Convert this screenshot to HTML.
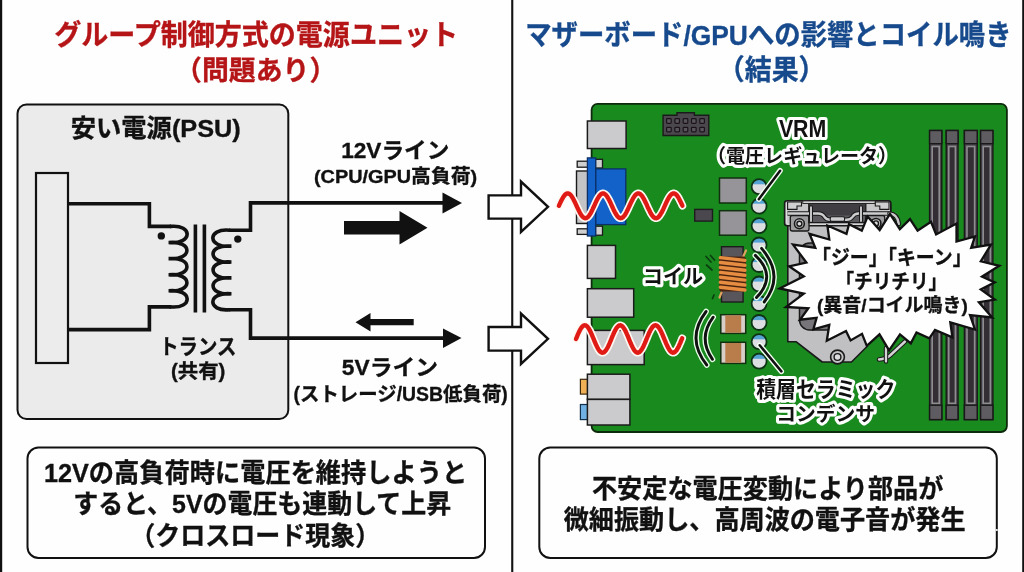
<!DOCTYPE html>
<html lang="ja"><head><meta charset="utf-8"><title>コイル鳴き解説</title>
<style>
html,body{margin:0;padding:0;background:#fefefe;}
body{width:1024px;height:572px;overflow:hidden;}
svg{display:block}
text{font-family:'Liberation Sans','Noto Sans CJK JP',sans-serif;font-weight:700;}
</style></head><body>
<svg width="1024" height="572" viewBox="0 0 1024 572">
<rect width="1024" height="572" fill="#fefefe"/>

<rect x="0" y="0" width="2.2" height="572" fill="#111"/>
<rect x="1022.2" y="0" width="1.8" height="572" fill="#111"/>
<rect x="511.2" y="0" width="2.1" height="572" fill="#111"/>
<rect x="17.5" y="104.5" width="270.8" height="314.5" rx="9" fill="#ebebeb" stroke="#111" stroke-width="2"/>
<rect x="36" y="173" width="32" height="190" fill="#ececec" stroke="#111" stroke-width="2.2"/>
<path d="M68,203.8 H149.4 V226.4 H171" fill="none" stroke="#111" stroke-width="3.6" stroke-linejoin="miter"/>
<path d="M68,329.6 H149.4 V306.9 H171" fill="none" stroke="#111" stroke-width="3.6" stroke-linejoin="miter"/>
<path d="M170.5,226.4 C193.0,224.2 193.0,244.7 168.7,242.5 C193.0,240.3 193.0,260.8 168.7,258.6 C193.0,256.4 193.0,276.9 168.7,274.7 C193.0,272.5 193.0,293.0 168.7,290.8 C193.0,288.6 193.0,309.1 170.5,306.9" fill="none" stroke="#111" stroke-width="3.6" stroke-linejoin="miter" stroke-linecap="round"/>
<path d="M195.4,224.4 V312.6 M204.4,224.4 V312.6" fill="none" stroke="#111" stroke-width="3.6" stroke-linejoin="miter"/>
<path d="M229.5,230.2 C207.0,228.0 207.0,248.3 231.3,246.1 C207.0,243.9 207.0,264.2 231.3,262.0 C207.0,259.8 207.0,280.1 231.3,277.9 C207.0,275.7 207.0,296.0 231.3,293.8 C207.0,291.6 207.0,311.9 229.5,309.7" fill="none" stroke="#111" stroke-width="3.6" stroke-linejoin="miter" stroke-linecap="round"/>
<path d="M229,230.2 H250.5 V202.9 H445" fill="none" stroke="#111" stroke-width="3.6" stroke-linejoin="miter"/>
<path d="M229,309.7 H250.5 V338.1 H445" fill="none" stroke="#111" stroke-width="3.6" stroke-linejoin="miter"/>
<circle cx="161.3" cy="235.9" r="3.7" fill="#111"/>
<circle cx="237.8" cy="239.1" r="3.7" fill="#111"/>
<path d="M442.5,192.4 L462,202.9 L442.5,213.4 Z" fill="#111"/>
<path d="M443,328.4 L461.5,338.1 L443,348 Z" fill="#111"/>
<path d="M344,221 H399.5 V211 L427.5,227.8 L399.5,244.5 V234.5 H344 Z" fill="#111"/>
<path d="M413.7,319 H370.5 V313 L355.5,322.2 L370.5,331.5 V325.2 H413.7 Z" fill="#111"/>
<path d="M488.6,195.4 H521 V181.5 L548,206.8 L521,232 V218.6 H488.6 Z" fill="#fefefe" stroke="#111" stroke-width="2.4" stroke-linejoin="miter"/>
<path d="M488.6,327 H521 V313.5 L548,338.8 L521,364 V350.6 H488.6 Z" fill="#fefefe" stroke="#111" stroke-width="2.4" stroke-linejoin="miter"/>
<rect x="27.5" y="447.5" width="457.5" height="110.5" rx="11" fill="#fefefe" stroke="#111" stroke-width="2"/>
<rect x="539.3" y="447.5" width="457.5" height="110.5" rx="11" fill="#fefefe" stroke="#111" stroke-width="2"/>
<circle cx="996.8" cy="530" r="1.1" fill="#fefefe"/>
<rect x="591.6" y="103.8" width="415.3" height="328.2" rx="6" fill="#198a1e" stroke="#0d2a0d" stroke-width="1.8"/>
<rect x="587.4" y="121" width="38.7" height="27.5" fill="#cbcbcd" stroke="#1b1b1b" stroke-width="1.5"/>
<rect x="576.5" y="171" width="12" height="52.5" fill="#c4c4c6" stroke="#1b1b1b" stroke-width="1.4"/>
<rect x="577.2" y="161.2" width="10.5" height="6" fill="#cfcfcf" stroke="#1b1b1b" stroke-width="1.3"/>
<rect x="577.2" y="228.8" width="10.5" height="5.6" fill="#cfcfcf" stroke="#1b1b1b" stroke-width="1.3"/>
<rect x="595.5" y="159.3" width="7" height="8.7" fill="#cfcfcf" stroke="#1b1b1b" stroke-width="1.3"/>
<rect x="595.5" y="226.2" width="7" height="9" fill="#cfcfcf" stroke="#1b1b1b" stroke-width="1.3"/>
<rect x="595.5" y="168.9" width="30.3" height="55.7" fill="#1262c9" stroke="#0d2f66" stroke-width="1.3"/>
<rect x="587.4" y="157.9" width="8.3" height="78.1" fill="#1262c9" stroke="#0d2f66" stroke-width="1.3"/>
<rect x="587.4" y="245.4" width="28.1" height="33" fill="#cbcbcd" stroke="#1b1b1b" stroke-width="1.5"/>
<rect x="587.4" y="288.7" width="46.3" height="28.5" fill="#cbcbcd" stroke="#1b1b1b" stroke-width="1.5"/>
<rect x="587.4" y="330.4" width="56.8" height="34.2" fill="#cbcbcd" stroke="#1b1b1b" stroke-width="1.5"/>
<rect x="580.4" y="379.3" width="7.5" height="14.8" fill="#f0b055" stroke="#3a2a10" stroke-width="1.2"/>
<rect x="580.4" y="404.5" width="7.5" height="15.1" fill="#70b2e4" stroke="#14304a" stroke-width="1.2"/>
<rect x="587.4" y="374.2" width="42.5" height="25.2" fill="#cbcbcd" stroke="#1b1b1b" stroke-width="1.5"/>
<rect x="587.4" y="399.4" width="42.5" height="25.6" fill="#cbcbcd" stroke="#1b1b1b" stroke-width="1.5"/>
<path d="M663.1,115.3 H677 V112.8 H694.4 V115.3 H708.8 V135.5 H663.1 Z" fill="#4b484d" stroke="#1a1a1a" stroke-width="1.4"/>
<rect x="666.6" y="118.7" width="4.6" height="4.6" rx="0.8" fill="#59565b" stroke="#1c121c" stroke-width="1.2"/>
<rect x="674.9" y="118.7" width="4.6" height="4.6" rx="0.8" fill="#59565b" stroke="#1c121c" stroke-width="1.2"/>
<rect x="683.2" y="118.7" width="4.6" height="4.6" rx="0.8" fill="#59565b" stroke="#1c121c" stroke-width="1.2"/>
<rect x="691.5" y="118.7" width="4.6" height="4.6" rx="0.8" fill="#59565b" stroke="#1c121c" stroke-width="1.2"/>
<rect x="699.8" y="118.7" width="4.6" height="4.6" rx="0.8" fill="#59565b" stroke="#1c121c" stroke-width="1.2"/>
<rect x="666.6" y="127.3" width="4.6" height="4.6" rx="0.8" fill="#59565b" stroke="#1c121c" stroke-width="1.2"/>
<rect x="674.9" y="127.3" width="4.6" height="4.6" rx="0.8" fill="#59565b" stroke="#1c121c" stroke-width="1.2"/>
<rect x="683.2" y="127.3" width="4.6" height="4.6" rx="0.8" fill="#59565b" stroke="#1c121c" stroke-width="1.2"/>
<rect x="691.5" y="127.3" width="4.6" height="4.6" rx="0.8" fill="#59565b" stroke="#1c121c" stroke-width="1.2"/>
<rect x="699.8" y="127.3" width="4.6" height="4.6" rx="0.8" fill="#59565b" stroke="#1c121c" stroke-width="1.2"/>
<rect x="719.5" y="178" width="26.8" height="25" fill="#969498" stroke="#10300f" stroke-width="1.5"/>
<rect x="719.5" y="210.7" width="26.8" height="24.5" fill="#969498" stroke="#10300f" stroke-width="1.5"/>
<rect x="694.7" y="209.4" width="17.8" height="11.7" fill="#4a474e" stroke="#1d1d1d" stroke-width="1.4"/>
<defs><clipPath id="capc"><circle cx="0" cy="0" r="7.5"/></clipPath></defs>
<g transform="translate(759.1,186.7)"><circle r="7.5" fill="#dcdee2"/><rect x="-8" y="-8" width="16" height="5.6" fill="#55a3d3" clip-path="url(#capc)"/><circle r="7.5" fill="none" stroke="#0c3314" stroke-width="1.8"/></g>
<g transform="translate(759.1,206.1)"><circle r="7.5" fill="#dcdee2"/><rect x="-8" y="-8" width="16" height="5.6" fill="#55a3d3" clip-path="url(#capc)"/><circle r="7.5" fill="none" stroke="#0c3314" stroke-width="1.8"/></g>
<g transform="translate(759.1,225.6)"><circle r="7.5" fill="#dcdee2"/><rect x="-8" y="-8" width="16" height="5.6" fill="#55a3d3" clip-path="url(#capc)"/><circle r="7.5" fill="none" stroke="#0c3314" stroke-width="1.8"/></g>
<g transform="translate(759.1,245)"><circle r="7.5" fill="#dcdee2"/><rect x="-8" y="-8" width="16" height="5.6" fill="#55a3d3" clip-path="url(#capc)"/><circle r="7.5" fill="none" stroke="#0c3314" stroke-width="1.8"/></g>
<g transform="translate(759.1,264.5)"><circle r="7.5" fill="#dcdee2"/><rect x="-8" y="-8" width="16" height="5.6" fill="#55a3d3" clip-path="url(#capc)"/><circle r="7.5" fill="none" stroke="#0c3314" stroke-width="1.8"/></g>
<g transform="translate(759.1,284)"><circle r="7.5" fill="#dcdee2"/><rect x="-8" y="-8" width="16" height="5.6" fill="#55a3d3" clip-path="url(#capc)"/><circle r="7.5" fill="none" stroke="#0c3314" stroke-width="1.8"/></g>
<g transform="translate(759.1,303.5)"><circle r="7.5" fill="#dcdee2"/><rect x="-8" y="-8" width="16" height="5.6" fill="#55a3d3" clip-path="url(#capc)"/><circle r="7.5" fill="none" stroke="#0c3314" stroke-width="1.8"/></g>
<g transform="translate(759.1,322.5)"><circle r="7.5" fill="#dcdee2"/><rect x="-8" y="-8" width="16" height="5.6" fill="#55a3d3" clip-path="url(#capc)"/><circle r="7.5" fill="none" stroke="#0c3314" stroke-width="1.8"/></g>
<g transform="translate(759.1,341.7)"><circle r="7.5" fill="#dcdee2"/><rect x="-8" y="-8" width="16" height="5.6" fill="#55a3d3" clip-path="url(#capc)"/><circle r="7.5" fill="none" stroke="#0c3314" stroke-width="1.8"/></g>
<g transform="translate(759.1,361.2)"><circle r="7.5" fill="#dcdee2"/><rect x="-8" y="-8" width="16" height="5.6" fill="#55a3d3" clip-path="url(#capc)"/><circle r="7.5" fill="none" stroke="#0c3314" stroke-width="1.8"/></g>
<rect x="721.5" y="246.7" width="21.6" height="55.3" fill="#58565a" stroke="#1c1c1c" stroke-width="1.4"/>
<path d="M742.5,258 L746,250.5" stroke="#e0a060" stroke-width="2.2" stroke-linecap="round" fill="none"/>
<path d="M719.5,297.5 L721.5,292.5" stroke="#e0a060" stroke-width="2.2" stroke-linecap="round" fill="none"/>
<rect x="719.3" y="256.4" width="26.6" height="35" rx="2.5" fill="#4a2410"/>
<path d="M720.3,257.6 L744.9,260.4" stroke="#e68d42" stroke-width="3.4" stroke-linecap="round" fill="none"/>
<path d="M720.3,262.5 L744.9,265.3" stroke="#e68d42" stroke-width="3.4" stroke-linecap="round" fill="none"/>
<path d="M720.3,267.5 L744.9,270.3" stroke="#e68d42" stroke-width="3.4" stroke-linecap="round" fill="none"/>
<path d="M720.3,272.4 L744.9,275.2" stroke="#e68d42" stroke-width="3.4" stroke-linecap="round" fill="none"/>
<path d="M720.3,277.3 L744.9,280.1" stroke="#e68d42" stroke-width="3.4" stroke-linecap="round" fill="none"/>
<path d="M720.3,282.2 L744.9,285.0" stroke="#e68d42" stroke-width="3.4" stroke-linecap="round" fill="none"/>
<path d="M720.3,287.2 L744.9,290.0" stroke="#e68d42" stroke-width="3.4" stroke-linecap="round" fill="none"/>
<path d="M706,256.5 L711,262 M710.5,255.5 L714.5,260 M706.5,265 L712,270 M714,295 L712.5,298.5" stroke="#0b3f10" stroke-width="1.7" fill="none" stroke-linecap="round"/>
<rect x="720.8" y="314.7" width="24.9" height="18.7" fill="#d8cec8" stroke="#10300f" stroke-width="1.5"/>
<rect x="725.3" y="315.4" width="15.9" height="17.3" fill="#b97d4b"/>
<rect x="720.8" y="342.3" width="24.9" height="21.1" fill="#d8cec8" stroke="#10300f" stroke-width="1.5"/>
<rect x="725.3" y="343.0" width="15.9" height="19.700000000000003" fill="#b97d4b"/>
<path d="M755.3,255.4 Q777.5,276 756.5,297.5" fill="none" stroke="#e8ffe8" stroke-width="5.6" stroke-linecap="round"/>
<path d="M761.6,248.4 Q785,275.8 764.2,302" fill="none" stroke="#e8ffe8" stroke-width="5.6" stroke-linecap="round"/>
<path d="M706.1,311.5 Q685.5,338.3 706.8,365" fill="none" stroke="#e8ffe8" stroke-width="5.6" stroke-linecap="round"/>
<path d="M713.2,317.2 Q697.5,338.3 712.5,359.3" fill="none" stroke="#e8ffe8" stroke-width="5.6" stroke-linecap="round"/>
<path d="M755.3,255.4 Q777.5,276 756.5,297.5" fill="none" stroke="#111" stroke-width="2.9" stroke-linecap="round"/>
<path d="M761.6,248.4 Q785,275.8 764.2,302" fill="none" stroke="#111" stroke-width="2.9" stroke-linecap="round"/>
<path d="M706.1,311.5 Q685.5,338.3 706.8,365" fill="none" stroke="#111" stroke-width="2.9" stroke-linecap="round"/>
<path d="M713.2,317.2 Q697.5,338.3 712.5,359.3" fill="none" stroke="#111" stroke-width="2.9" stroke-linecap="round"/>
<path d="M780.1,170.7 L758.8,199.2" fill="none" stroke="#f2fff2" stroke-width="5.4" stroke-linecap="round"/>
<path d="M780.1,170.7 L758.8,199.2" fill="none" stroke="#111" stroke-width="2.5" stroke-linecap="round"/>
<path d="M759.7,345.3 L781.4,371.4" fill="none" stroke="#f2fff2" stroke-width="5.4" stroke-linecap="round"/>
<path d="M759.7,345.3 L781.4,371.4" fill="none" stroke="#111" stroke-width="2.5" stroke-linecap="round"/>
<rect x="929.6" y="130.5" width="12.2" height="289.1" fill="#4b484e" stroke="#191919" stroke-width="1.4"/>
<rect x="932.2" y="146.5" width="7.0" height="256.8" fill="#322e33" stroke="#8e8c90" stroke-width="1.6"/>
<rect x="929.6" y="130.5" width="12.2" height="13.2" fill="#5e5b61" stroke="#191919" stroke-width="1.4"/>
<rect x="929.6" y="405.2" width="12.2" height="14.4" fill="#5e5b61" stroke="#191919" stroke-width="1.4"/>
<rect x="946.2" y="130.5" width="11.8" height="289.1" fill="#4b484e" stroke="#191919" stroke-width="1.4"/>
<rect x="948.8" y="146.5" width="6.6" height="256.8" fill="#322e33" stroke="#8e8c90" stroke-width="1.6"/>
<rect x="946.2" y="130.5" width="11.8" height="13.2" fill="#5e5b61" stroke="#191919" stroke-width="1.4"/>
<rect x="946.2" y="405.2" width="11.8" height="14.4" fill="#5e5b61" stroke="#191919" stroke-width="1.4"/>
<rect x="964.4" y="130.5" width="12.8" height="289.1" fill="#4b484e" stroke="#191919" stroke-width="1.4"/>
<rect x="967.0" y="146.5" width="7.6" height="256.8" fill="#322e33" stroke="#8e8c90" stroke-width="1.6"/>
<rect x="964.4" y="130.5" width="12.8" height="13.2" fill="#5e5b61" stroke="#191919" stroke-width="1.4"/>
<rect x="964.4" y="405.2" width="12.8" height="14.4" fill="#5e5b61" stroke="#191919" stroke-width="1.4"/>
<rect x="980.6" y="130.5" width="12.3" height="289.1" fill="#4b484e" stroke="#191919" stroke-width="1.4"/>
<rect x="983.2" y="146.5" width="7.1" height="256.8" fill="#322e33" stroke="#8e8c90" stroke-width="1.6"/>
<rect x="980.6" y="130.5" width="12.3" height="13.2" fill="#5e5b61" stroke="#191919" stroke-width="1.4"/>
<rect x="980.6" y="405.2" width="12.3" height="14.4" fill="#5e5b61" stroke="#191919" stroke-width="1.4"/>
<path d="M787.8,203 Q787.8,201.5 790,201.5 H888 Q890.5,201.5 890.5,204 V233 L895,240 V325 L868,338 L866.8,346.8 L851.5,362 H822.2 L796,341.7 H787.8 Z" fill="#c0c0c3" stroke="#1a1a1a" stroke-width="1.6" stroke-linejoin="round"/>
<rect x="799.5" y="243" width="95" height="87" rx="10" fill="#77757a" stroke="#1a1a1a" stroke-width="1.5"/>
<rect x="784.6" y="200.8" width="106.2" height="25" rx="2.5" fill="#c7c7c9" stroke="#1a1a1a" stroke-width="1.6"/>
<rect x="786.6" y="202.6" width="102.2" height="21.5" rx="1.5" fill="none" stroke="#e2e2e4" stroke-width="1"/>
<rect x="790.3" y="215.5" width="18.7" height="15.5" rx="2" fill="#9d9c9f" stroke="#1a1a1a" stroke-width="1.3"/>
<rect x="866" y="215.5" width="18.7" height="15.5" rx="2" fill="#9d9c9f" stroke="#1a1a1a" stroke-width="1.3"/>
<rect x="808.8" y="203.2" width="57" height="19.4" fill="#403e42" stroke="#1a1a1a" stroke-width="1.3"/>
<rect x="809.5" y="215.5" width="55.6" height="6.5" fill="#5c5a5e"/>
<rect x="802.8" y="200.9" width="72.5" height="2.6" fill="#d2d2d4" stroke="#1a1a1a" stroke-width="0.9"/>
<path d="M787.6,209.4 V202 H801.5 V206 H797 V209.4 Z" fill="#d0d0d2" stroke="#1a1a1a" stroke-width="1.1"/>
<path d="M889,209.4 V202 H875.3 V206 H879.8 V209.4 Z" fill="#d0d0d2" stroke="#1a1a1a" stroke-width="1.1"/>
<path d="M787.5,213.5 H818 Q822.5,213.5 824.5,216.8 Q826.3,219.8 830.5,219.8 H846.5 Q850.5,219.8 852.5,216.8 Q854.5,213.5 858.5,213.5 H889.5" stroke="#1a1a1a" stroke-width="4.6" fill="none" stroke-linecap="butt" stroke-linejoin="round"/>
<path d="M787.5,213.5 H818 Q822.5,213.5 824.5,216.8 Q826.3,219.8 830.5,219.8 H846.5 Q850.5,219.8 852.5,216.8 Q854.5,213.5 858.5,213.5 H889.5" stroke="#cdcdcf" stroke-width="2.4" fill="none" stroke-linecap="butt" stroke-linejoin="round"/>
<rect x="830.2" y="216.8" width="14.4" height="4.6" rx="1.6" fill="#cdcdcf" stroke="#1a1a1a" stroke-width="1.1"/>
<path d="M811,207.3 V221 M861,207.3 V221" stroke="#1a1a1a" stroke-width="4" stroke-linecap="round" fill="none"/>
<path d="M811,207.3 V221 M861,207.3 V221" stroke="#cdcdcf" stroke-width="1.9" stroke-linecap="round" fill="none"/>
<path d="M889.5,213.5 Q897.5,214 898.8,224" stroke="#1a1a1a" stroke-width="4.6" fill="none" stroke-linecap="round"/>
<path d="M889.5,213.5 Q897.5,214 898.8,224" stroke="#c9c9cb" stroke-width="2.4" fill="none" stroke-linecap="round"/>
<circle cx="799.4" cy="223.7" r="4.9" fill="#c4c4c7" stroke="#1a1a1a" stroke-width="1.6"/><circle cx="799.4" cy="223.7" r="2.5" fill="#dcdcde" stroke="#1a1a1a" stroke-width="1.4"/>
<circle cx="876" cy="223.4" r="4.9" fill="#c4c4c7" stroke="#1a1a1a" stroke-width="1.6"/><circle cx="876" cy="223.4" r="2.5" fill="#dcdcde" stroke="#1a1a1a" stroke-width="1.4"/>
<circle cx="837.5" cy="357" r="6.9" fill="#c4c4c7" stroke="#1a1a1a" stroke-width="1.6"/><circle cx="837.5" cy="357" r="3.4" fill="#dcdcde" stroke="#1a1a1a" stroke-width="1.4"/>
<path d="M905,341.5 L890,355.5 Q886,359 879,359.5" stroke="#1a1a1a" stroke-width="4.6" fill="none" stroke-linecap="round"/>
<path d="M905,341.5 L890,355.5 Q886,359 879,359.5" stroke="#d4d4d6" stroke-width="2.4" fill="none" stroke-linecap="round"/>
<path d="M886,348 V361.5" stroke="#1a1a1a" stroke-width="4.4" fill="none" stroke-linecap="round"/>
<path d="M886,348 V361.5" stroke="#d4d4d6" stroke-width="2.3" fill="none" stroke-linecap="round"/>
<polygon points="789.1,266.3 806.4,262.5 793,244.6 815.3,247.8 809.5,233.8 829.3,239.5 827.4,225.5 846.5,233.8 849,224.2 861.8,230.6 867.6,216.6 879.7,230 890,214 899.8,229.3 910,219.1 917.6,230.6 931,221.7 936.1,234.4 956.5,223.6 956.5,241.5 975,236.4 971.2,247.8 991,244.6 980.8,261.3 999.3,265.8 982,276.7 994.8,282.4 980.8,289.4 994.8,299.6 978.9,302.2 992.2,317.5 970,315 975,329.5 950.3,322.3 952.4,337.4 935,330 929.3,338.3 916.5,332.5 910.8,343.4 900,334.4 889.1,350.4 879.5,334.4 866.8,345.9 862,333.8 850.6,340.5 846,331 826.8,340.8 829.3,324.8 813.4,329.3 816.6,317.8 800,319.7 808.3,308.3 786,307 803.8,293.6 779.6,288.5 803.8,276.4" fill="#fefefe" stroke="#111" stroke-width="2.3" stroke-linejoin="miter" stroke-miterlimit="6"/>
<path d="M558.9,205.8 L559.4,204.7 L559.9,203.6 L560.4,202.5 L560.9,201.5 L561.4,200.5 L561.9,199.5 L562.4,198.6 L562.9,197.7 L563.4,196.9 L563.9,196.2 L564.4,195.5 L564.9,194.9 L565.4,194.4 L565.9,194.0 L566.4,193.7 L566.9,193.5 L567.4,193.4 L567.9,193.4 L568.4,193.5 L568.9,193.7 L569.4,193.9 L569.9,194.3 L570.4,194.8 L570.9,195.3 L571.4,196.0 L571.9,196.7 L572.4,197.5 L572.9,198.3 L573.4,199.2 L573.9,200.2 L574.4,201.2 L574.9,202.2 L575.4,203.3 L575.9,204.4 L576.4,205.5 L576.9,206.6 L577.4,207.7 L577.9,208.8 L578.4,209.8 L578.9,210.8 L579.4,211.8 L579.9,212.8 L580.4,213.6 L580.9,214.5 L581.4,215.2 L581.9,215.9 L582.4,216.5 L582.9,217.0 L583.4,217.4 L583.9,217.8 L584.4,218.0 L584.9,218.2 L585.4,218.2 L585.9,218.1 L586.4,218.0 L586.9,217.7 L587.4,217.4 L587.9,217.0 L588.4,216.4 L588.9,215.8 L589.4,215.2 L589.9,214.4 L590.4,213.6 L590.9,212.7 L591.4,211.7 L591.9,210.7 L592.4,209.7 L592.9,208.6 L593.4,207.6 L593.9,206.5 L594.4,205.4 L594.9,204.3 L595.4,203.2 L595.9,202.1 L596.4,201.1 L596.9,200.1 L597.4,199.1 L597.9,198.2 L598.4,197.4 L598.9,196.6 L599.4,195.9 L599.9,195.3 L600.4,194.7 L600.9,194.3 L601.4,193.9 L601.9,193.6 L602.4,193.5 L602.9,193.4 L603.4,193.4 L603.9,193.6 L604.4,193.8 L604.9,194.1 L605.4,194.5 L605.9,195.0 L606.4,195.6 L606.9,196.2 L607.4,197.0 L607.9,197.8 L608.4,198.7 L608.9,199.6 L609.4,200.6 L609.9,201.6 L610.4,202.6 L610.9,203.7 L611.4,204.8 L611.9,205.9 L612.4,207.0 L612.9,208.1 L613.4,209.2 L613.9,210.2 L614.4,211.2 L614.9,212.2 L615.4,213.1 L615.9,214.0 L616.4,214.8 L616.9,215.5 L617.4,216.2 L617.9,216.7 L618.4,217.2 L618.9,217.6 L619.4,217.9 L619.9,218.1 L620.4,218.2 L620.9,218.2 L621.4,218.1 L621.9,217.9 L622.4,217.6 L622.9,217.2 L623.4,216.8 L623.9,216.2 L624.4,215.6 L624.9,214.9 L625.4,214.1 L625.9,213.2 L626.4,212.3 L626.9,211.3 L627.4,210.3 L627.9,209.3 L628.4,208.2 L628.9,207.1 L629.4,206.0 L629.9,204.9 L630.4,203.8 L630.9,202.7 L631.4,201.7 L631.9,200.7 L632.4,199.7 L632.9,198.7 L633.4,197.9 L633.9,197.1 L634.4,196.3 L634.9,195.6 L635.4,195.0 L635.9,194.5 L636.4,194.1 L636.9,193.8 L637.4,193.6 L637.9,193.4 L638.4,193.4 L638.9,193.5 L639.4,193.6 L639.9,193.9 L640.4,194.2 L640.9,194.7 L641.4,195.2 L641.9,195.8 L642.4,196.5 L642.9,197.3 L643.4,198.1 L643.9,199.0 L644.4,200.0 L644.9,201.0 L645.4,202.0 L645.9,203.1 L646.4,204.1 L646.9,205.2 L647.4,206.4 L647.9,207.5 L648.4,208.5 L648.9,209.6 L649.4,210.6 L649.9,211.6 L650.4,212.6 L650.9,213.5 L651.4,214.3 L651.9,215.1 L652.4,215.8 L652.9,216.4 L653.4,216.9 L653.9,217.4 L654.4,217.7 L654.9,218.0 L655.4,218.1 L655.9,218.2 L656.4,218.2 L656.9,218.0 L657.4,217.8 L657.9,217.5 L658.4,217.1 L658.9,216.6 L659.4,216.0 L659.9,215.3 L660.4,214.5 L660.9,213.7 L661.4,212.9 L661.9,211.9 L662.4,210.9 L662.9,209.9 L663.4,208.9 L663.9,207.8 L664.4,206.7 L664.9,205.6 L665.4,204.5 L665.9,203.4 L666.4,202.3 L666.9,201.3 L667.4,200.3 L667.9,199.3 L668.4,198.4 L668.9,197.5 L669.4,196.7 L669.9,196.0 L670.4,195.4 L670.9,194.8 L671.4,194.4 L671.9,194.0 L672.4,193.7 L672.9,193.5 L673.4,193.4 L673.9,193.4 L674.4,193.5 L674.9,193.7 L675.4,194.0 L675.9,194.4 L676.4,194.9 L676.9,195.4 L677.4,196.1 L677.9,196.8 L678.4,197.6 L678.9,198.5 L679.4,199.4 L679.9,200.4 L680.4,201.4 L680.9,202.4 L681.4,203.5 L681.9,204.6 L682.4,205.7" fill="none" stroke="#fff8f2" stroke-width="7.8" stroke-linecap="round" stroke-linejoin="round"/>
<path d="M558.9,205.8 L559.4,204.7 L559.9,203.6 L560.4,202.5 L560.9,201.5 L561.4,200.5 L561.9,199.5 L562.4,198.6 L562.9,197.7 L563.4,196.9 L563.9,196.2 L564.4,195.5 L564.9,194.9 L565.4,194.4 L565.9,194.0 L566.4,193.7 L566.9,193.5 L567.4,193.4 L567.9,193.4 L568.4,193.5 L568.9,193.7 L569.4,193.9 L569.9,194.3 L570.4,194.8 L570.9,195.3 L571.4,196.0 L571.9,196.7 L572.4,197.5 L572.9,198.3 L573.4,199.2 L573.9,200.2 L574.4,201.2 L574.9,202.2 L575.4,203.3 L575.9,204.4 L576.4,205.5 L576.9,206.6 L577.4,207.7 L577.9,208.8 L578.4,209.8 L578.9,210.8 L579.4,211.8 L579.9,212.8 L580.4,213.6 L580.9,214.5 L581.4,215.2 L581.9,215.9 L582.4,216.5 L582.9,217.0 L583.4,217.4 L583.9,217.8 L584.4,218.0 L584.9,218.2 L585.4,218.2 L585.9,218.1 L586.4,218.0 L586.9,217.7 L587.4,217.4 L587.9,217.0 L588.4,216.4 L588.9,215.8 L589.4,215.2 L589.9,214.4 L590.4,213.6 L590.9,212.7 L591.4,211.7 L591.9,210.7 L592.4,209.7 L592.9,208.6 L593.4,207.6 L593.9,206.5 L594.4,205.4 L594.9,204.3 L595.4,203.2 L595.9,202.1 L596.4,201.1 L596.9,200.1 L597.4,199.1 L597.9,198.2 L598.4,197.4 L598.9,196.6 L599.4,195.9 L599.9,195.3 L600.4,194.7 L600.9,194.3 L601.4,193.9 L601.9,193.6 L602.4,193.5 L602.9,193.4 L603.4,193.4 L603.9,193.6 L604.4,193.8 L604.9,194.1 L605.4,194.5 L605.9,195.0 L606.4,195.6 L606.9,196.2 L607.4,197.0 L607.9,197.8 L608.4,198.7 L608.9,199.6 L609.4,200.6 L609.9,201.6 L610.4,202.6 L610.9,203.7 L611.4,204.8 L611.9,205.9 L612.4,207.0 L612.9,208.1 L613.4,209.2 L613.9,210.2 L614.4,211.2 L614.9,212.2 L615.4,213.1 L615.9,214.0 L616.4,214.8 L616.9,215.5 L617.4,216.2 L617.9,216.7 L618.4,217.2 L618.9,217.6 L619.4,217.9 L619.9,218.1 L620.4,218.2 L620.9,218.2 L621.4,218.1 L621.9,217.9 L622.4,217.6 L622.9,217.2 L623.4,216.8 L623.9,216.2 L624.4,215.6 L624.9,214.9 L625.4,214.1 L625.9,213.2 L626.4,212.3 L626.9,211.3 L627.4,210.3 L627.9,209.3 L628.4,208.2 L628.9,207.1 L629.4,206.0 L629.9,204.9 L630.4,203.8 L630.9,202.7 L631.4,201.7 L631.9,200.7 L632.4,199.7 L632.9,198.7 L633.4,197.9 L633.9,197.1 L634.4,196.3 L634.9,195.6 L635.4,195.0 L635.9,194.5 L636.4,194.1 L636.9,193.8 L637.4,193.6 L637.9,193.4 L638.4,193.4 L638.9,193.5 L639.4,193.6 L639.9,193.9 L640.4,194.2 L640.9,194.7 L641.4,195.2 L641.9,195.8 L642.4,196.5 L642.9,197.3 L643.4,198.1 L643.9,199.0 L644.4,200.0 L644.9,201.0 L645.4,202.0 L645.9,203.1 L646.4,204.1 L646.9,205.2 L647.4,206.4 L647.9,207.5 L648.4,208.5 L648.9,209.6 L649.4,210.6 L649.9,211.6 L650.4,212.6 L650.9,213.5 L651.4,214.3 L651.9,215.1 L652.4,215.8 L652.9,216.4 L653.4,216.9 L653.9,217.4 L654.4,217.7 L654.9,218.0 L655.4,218.1 L655.9,218.2 L656.4,218.2 L656.9,218.0 L657.4,217.8 L657.9,217.5 L658.4,217.1 L658.9,216.6 L659.4,216.0 L659.9,215.3 L660.4,214.5 L660.9,213.7 L661.4,212.9 L661.9,211.9 L662.4,210.9 L662.9,209.9 L663.4,208.9 L663.9,207.8 L664.4,206.7 L664.9,205.6 L665.4,204.5 L665.9,203.4 L666.4,202.3 L666.9,201.3 L667.4,200.3 L667.9,199.3 L668.4,198.4 L668.9,197.5 L669.4,196.7 L669.9,196.0 L670.4,195.4 L670.9,194.8 L671.4,194.4 L671.9,194.0 L672.4,193.7 L672.9,193.5 L673.4,193.4 L673.9,193.4 L674.4,193.5 L674.9,193.7 L675.4,194.0 L675.9,194.4 L676.4,194.9 L676.9,195.4 L677.4,196.1 L677.9,196.8 L678.4,197.6 L678.9,198.5 L679.4,199.4 L679.9,200.4 L680.4,201.4 L680.9,202.4 L681.4,203.5 L681.9,204.6 L682.4,205.7" fill="none" stroke="#e01b15" stroke-width="4.4" stroke-linecap="round" stroke-linejoin="round"/>
<path d="M576.0,339.0 L576.5,337.8 L577.0,336.6 L577.5,335.4 L578.0,334.2 L578.5,333.1 L579.0,332.0 L579.5,331.0 L580.0,330.0 L580.5,329.1 L581.0,328.3 L581.5,327.6 L582.0,327.0 L582.5,326.4 L583.0,326.0 L583.5,325.7 L584.0,325.4 L584.5,325.3 L585.0,325.3 L585.5,325.4 L586.0,325.6 L586.5,325.9 L587.0,326.3 L587.5,326.8 L588.0,327.5 L588.5,328.2 L589.0,329.0 L589.5,329.8 L590.0,330.8 L590.5,331.8 L591.0,332.8 L591.5,334.0 L592.0,335.1 L592.5,336.3 L593.0,337.5 L593.5,338.7 L594.0,339.9 L594.5,341.1 L595.0,342.3 L595.5,343.5 L596.0,344.6 L596.5,345.7 L597.0,346.8 L597.5,347.7 L598.0,348.7 L598.5,349.5 L599.0,350.2 L599.5,350.9 L600.0,351.4 L600.5,351.9 L601.0,352.3 L601.5,352.5 L602.0,352.7 L602.5,352.7 L603.1,352.6 L603.6,352.4 L604.1,352.2 L604.6,351.8 L605.1,351.3 L605.6,350.7 L606.1,350.0 L606.6,349.2 L607.1,348.4 L607.6,347.5 L608.1,346.5 L608.6,345.4 L609.1,344.3 L609.6,343.2 L610.1,342.0 L610.6,340.8 L611.1,339.6 L611.6,338.3 L612.1,337.1 L612.6,335.9 L613.1,334.8 L613.6,333.6 L614.1,332.5 L614.6,331.5 L615.1,330.5 L615.6,329.6 L616.1,328.7 L616.6,327.9 L617.1,327.3 L617.6,326.7 L618.1,326.2 L618.6,325.8 L619.1,325.5 L619.6,325.4 L620.1,325.3 L620.6,325.3 L621.1,325.5 L621.6,325.8 L622.1,326.1 L622.6,326.6 L623.1,327.2 L623.6,327.8 L624.1,328.6 L624.6,329.4 L625.1,330.3 L625.6,331.3 L626.1,332.3 L626.6,333.4 L627.1,334.6 L627.6,335.7 L628.1,336.9 L628.6,338.1 L629.1,339.4 L629.6,340.6 L630.1,341.8 L630.6,343.0 L631.1,344.1 L631.6,345.2 L632.1,346.3 L632.6,347.3 L633.1,348.2 L633.6,349.1 L634.1,349.9 L634.6,350.6 L635.1,351.2 L635.6,351.7 L636.1,352.1 L636.6,352.4 L637.1,352.6 L637.6,352.7 L638.1,352.7 L638.6,352.5 L639.1,352.3 L639.6,352.0 L640.1,351.5 L640.6,351.0 L641.1,350.3 L641.6,349.6 L642.1,348.8 L642.6,347.9 L643.1,346.9 L643.6,345.9 L644.1,344.8 L644.6,343.7 L645.1,342.5 L645.6,341.4 L646.1,340.1 L646.6,338.9 L647.1,337.7 L647.6,336.5 L648.1,335.3 L648.6,334.1 L649.1,333.0 L649.6,331.9 L650.1,330.9 L650.6,330.0 L651.1,329.1 L651.6,328.3 L652.1,327.6 L652.6,326.9 L653.1,326.4 L653.6,326.0 L654.1,325.7 L654.6,325.4 L655.1,325.3 L655.7,325.3 L656.2,325.4 L656.7,325.6 L657.2,325.9 L657.7,326.4 L658.2,326.9 L658.7,327.5 L659.2,328.2 L659.7,329.0 L660.2,329.9 L660.7,330.8 L661.2,331.8 L661.7,332.9 L662.2,334.0 L662.7,335.2 L663.2,336.4 L663.7,337.6 L664.2,338.8 L664.7,340.0 L665.2,341.2 L665.7,342.4 L666.2,343.6 L666.7,344.7 L667.2,345.8 L667.7,346.8 L668.2,347.8 L668.7,348.7 L669.2,349.5 L669.7,350.3 L670.2,350.9 L670.7,351.5 L671.2,351.9 L671.7,352.3 L672.2,352.5 L672.7,352.7 L673.2,352.7 L673.7,352.6 L674.2,352.4 L674.7,352.1 L675.2,351.7 L675.7,351.2 L676.2,350.6 L676.7,350.0 L677.2,349.2 L677.7,348.3 L678.2,347.4 L678.7,346.4 L679.2,345.3 L679.7,344.2 L680.2,343.1 L680.7,341.9 L681.2,340.7 L681.7,339.5 L682.2,338.3" fill="none" stroke="#fff8f2" stroke-width="7.8" stroke-linecap="round" stroke-linejoin="round"/>
<path d="M576.0,339.0 L576.5,337.8 L577.0,336.6 L577.5,335.4 L578.0,334.2 L578.5,333.1 L579.0,332.0 L579.5,331.0 L580.0,330.0 L580.5,329.1 L581.0,328.3 L581.5,327.6 L582.0,327.0 L582.5,326.4 L583.0,326.0 L583.5,325.7 L584.0,325.4 L584.5,325.3 L585.0,325.3 L585.5,325.4 L586.0,325.6 L586.5,325.9 L587.0,326.3 L587.5,326.8 L588.0,327.5 L588.5,328.2 L589.0,329.0 L589.5,329.8 L590.0,330.8 L590.5,331.8 L591.0,332.8 L591.5,334.0 L592.0,335.1 L592.5,336.3 L593.0,337.5 L593.5,338.7 L594.0,339.9 L594.5,341.1 L595.0,342.3 L595.5,343.5 L596.0,344.6 L596.5,345.7 L597.0,346.8 L597.5,347.7 L598.0,348.7 L598.5,349.5 L599.0,350.2 L599.5,350.9 L600.0,351.4 L600.5,351.9 L601.0,352.3 L601.5,352.5 L602.0,352.7 L602.5,352.7 L603.1,352.6 L603.6,352.4 L604.1,352.2 L604.6,351.8 L605.1,351.3 L605.6,350.7 L606.1,350.0 L606.6,349.2 L607.1,348.4 L607.6,347.5 L608.1,346.5 L608.6,345.4 L609.1,344.3 L609.6,343.2 L610.1,342.0 L610.6,340.8 L611.1,339.6 L611.6,338.3 L612.1,337.1 L612.6,335.9 L613.1,334.8 L613.6,333.6 L614.1,332.5 L614.6,331.5 L615.1,330.5 L615.6,329.6 L616.1,328.7 L616.6,327.9 L617.1,327.3 L617.6,326.7 L618.1,326.2 L618.6,325.8 L619.1,325.5 L619.6,325.4 L620.1,325.3 L620.6,325.3 L621.1,325.5 L621.6,325.8 L622.1,326.1 L622.6,326.6 L623.1,327.2 L623.6,327.8 L624.1,328.6 L624.6,329.4 L625.1,330.3 L625.6,331.3 L626.1,332.3 L626.6,333.4 L627.1,334.6 L627.6,335.7 L628.1,336.9 L628.6,338.1 L629.1,339.4 L629.6,340.6 L630.1,341.8 L630.6,343.0 L631.1,344.1 L631.6,345.2 L632.1,346.3 L632.6,347.3 L633.1,348.2 L633.6,349.1 L634.1,349.9 L634.6,350.6 L635.1,351.2 L635.6,351.7 L636.1,352.1 L636.6,352.4 L637.1,352.6 L637.6,352.7 L638.1,352.7 L638.6,352.5 L639.1,352.3 L639.6,352.0 L640.1,351.5 L640.6,351.0 L641.1,350.3 L641.6,349.6 L642.1,348.8 L642.6,347.9 L643.1,346.9 L643.6,345.9 L644.1,344.8 L644.6,343.7 L645.1,342.5 L645.6,341.4 L646.1,340.1 L646.6,338.9 L647.1,337.7 L647.6,336.5 L648.1,335.3 L648.6,334.1 L649.1,333.0 L649.6,331.9 L650.1,330.9 L650.6,330.0 L651.1,329.1 L651.6,328.3 L652.1,327.6 L652.6,326.9 L653.1,326.4 L653.6,326.0 L654.1,325.7 L654.6,325.4 L655.1,325.3 L655.7,325.3 L656.2,325.4 L656.7,325.6 L657.2,325.9 L657.7,326.4 L658.2,326.9 L658.7,327.5 L659.2,328.2 L659.7,329.0 L660.2,329.9 L660.7,330.8 L661.2,331.8 L661.7,332.9 L662.2,334.0 L662.7,335.2 L663.2,336.4 L663.7,337.6 L664.2,338.8 L664.7,340.0 L665.2,341.2 L665.7,342.4 L666.2,343.6 L666.7,344.7 L667.2,345.8 L667.7,346.8 L668.2,347.8 L668.7,348.7 L669.2,349.5 L669.7,350.3 L670.2,350.9 L670.7,351.5 L671.2,351.9 L671.7,352.3 L672.2,352.5 L672.7,352.7 L673.2,352.7 L673.7,352.6 L674.2,352.4 L674.7,352.1 L675.2,351.7 L675.7,351.2 L676.2,350.6 L676.7,350.0 L677.2,349.2 L677.7,348.3 L678.2,347.4 L678.7,346.4 L679.2,345.3 L679.7,344.2 L680.2,343.1 L680.7,341.9 L681.2,340.7 L681.7,339.5 L682.2,338.3" fill="none" stroke="#e01b15" stroke-width="4.4" stroke-linecap="round" stroke-linejoin="round"/>
<g opacity="0.999">
<text transform="translate(54.25,44.84) scale(0.9466,1)" font-size="28.56" fill="#b51517" stroke="#b51517" stroke-width="0.34" stroke-linejoin="round">グループ制御方式の電源ユニット</text>
<text transform="translate(175.06,79.73) scale(0.9701,1)" font-size="27.71" fill="#b51517" stroke="#b51517" stroke-width="0.34" stroke-linejoin="round">（問題あり）</text>
<text transform="translate(525.23,45.03) scale(0.9243,1)" font-size="28.53" fill="#174a8c" stroke="#174a8c" stroke-width="0.34" stroke-linejoin="round">マザーボード/GPUへの影響とコイル鳴き</text>
<text transform="translate(717.82,79.66) scale(0.9474,1)" font-size="28.44" fill="#174a8c" stroke="#174a8c" stroke-width="0.34" stroke-linejoin="round">（結果）</text>
<text transform="translate(70.73,137.35) scale(1.0315,1)" font-size="24.53" fill="#111" stroke="#111" stroke-width="0.34" stroke-linejoin="round">安い電源(PSU)</text>
<text transform="translate(341.14,158.38) scale(1.0259,1)" font-size="22.07" fill="#111" stroke="#111" stroke-width="0.34" stroke-linejoin="round">12Vライン</text>
<text transform="translate(314.01,183.34) scale(1.0528,1)" font-size="18.87" fill="#111" stroke="#111" stroke-width="0.34" stroke-linejoin="round">(CPU/GPU高負荷)</text>
<text transform="translate(341.82,374.99) scale(1.0422,1)" font-size="21.84" fill="#111" stroke="#111" stroke-width="0.34" stroke-linejoin="round">5Vライン</text>
<text transform="translate(293.53,400.54) scale(0.9805,1)" font-size="19.81" fill="#111" stroke="#111" stroke-width="0.34" stroke-linejoin="round">(ストレージ/USB低負荷)</text>
<text transform="translate(159.17,354.23) scale(0.9182,1)" font-size="21.18" fill="#111" stroke="#111" stroke-width="0.34" stroke-linejoin="round">トランス</text>
<text transform="translate(170.98,377.88) scale(1.0410,1)" font-size="19.62" fill="#111" stroke="#111" stroke-width="0.34" stroke-linejoin="round">(共有)</text>
<text transform="translate(43.99,482.15) scale(0.9514,1)" font-size="26.53" fill="#111" stroke="#111" stroke-width="0.34" stroke-linejoin="round">12Vの高負荷時に電圧を維持しようと</text>
<text transform="translate(73.25,513.14) scale(0.9367,1)" font-size="26.63" fill="#111" stroke="#111" stroke-width="0.34" stroke-linejoin="round">すると、5Vの電圧も連動して上昇</text>
<text transform="translate(130.28,545.40) scale(0.9609,1)" font-size="26.04" fill="#111" stroke="#111" stroke-width="0.34" stroke-linejoin="round">（クロスロード現象）</text>
<text transform="translate(591.99,497.98) scale(0.9602,1)" font-size="26.19" fill="#111" stroke="#111" stroke-width="0.34" stroke-linejoin="round">不安定な電圧変動により部品が</text>
<text transform="translate(563.75,528.83) scale(0.9412,1)" font-size="26.70" fill="#111" stroke="#111" stroke-width="0.34" stroke-linejoin="round">微細振動し、高周波の電子音が発生</text>
<text transform="translate(778.89,137.30) scale(0.8874,1)" font-size="24.06" fill="#111" stroke="#fff" stroke-width="6.2" stroke-linejoin="round" paint-order="stroke">VRM</text>
<text transform="translate(706.92,162.86) scale(0.9837,1)" font-size="19.38" fill="#111" stroke="#fff" stroke-width="6.2" stroke-linejoin="round" paint-order="stroke">（電圧レギュレータ）</text>
<text transform="translate(642.78,283.59) scale(0.9972,1)" font-size="20.23" fill="#111" stroke="#fff" stroke-width="6.2" stroke-linejoin="round" paint-order="stroke">コイル</text>
<text transform="translate(756.20,397.13) scale(0.9176,1)" font-size="21.68" fill="#111" stroke="#fff" stroke-width="6.2" stroke-linejoin="round" paint-order="stroke">積層セラミック</text>
<text transform="translate(776.23,421.13) scale(1.0108,1)" font-size="19.58" fill="#111" stroke="#fff" stroke-width="6.2" stroke-linejoin="round" paint-order="stroke">コンデンサ</text>
<text transform="translate(812.01,265.41) scale(0.9492,1)" font-size="19.90" fill="#111" stroke="#111" stroke-width="0.34" stroke-linejoin="round">「ジー」「キーン」</text>
<text transform="translate(835.47,288.71) scale(0.9371,1)" font-size="19.90" fill="#111" stroke="#111" stroke-width="0.34" stroke-linejoin="round">「チリチリ」</text>
<text transform="translate(817.05,312.46) scale(1.0123,1)" font-size="18.77" fill="#111" stroke="#111" stroke-width="0.34" stroke-linejoin="round">(異音/コイル鳴き)</text>
</g>
</svg></body></html>
